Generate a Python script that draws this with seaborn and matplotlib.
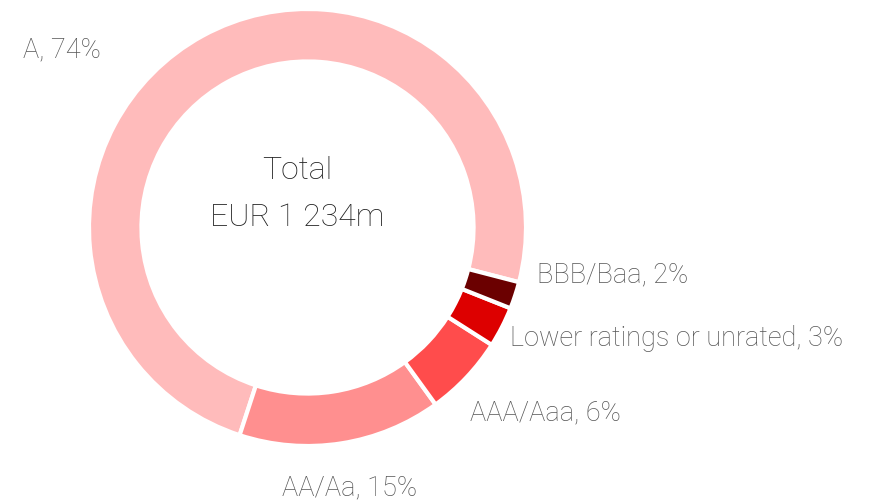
import matplotlib
matplotlib.use("Agg")
import matplotlib.pyplot as plt
import seaborn as sns

categories = ["A", "AA/Aa", "AAA/Aaa", "Lower ratings or unrated", "BBB/Baa"]
values = [74, 15, 6, 3, 2]
colors = ["#FFBBBB", "#FF8F8F", "#FF4C4C", "#DD0000", "#6B0000"]
total_lines = ["Total", "EUR 1 234m"]

sns.set_theme(style="white")
plt.rcParams["font.family"] = ["Roboto", "DejaVu Sans"]

W, H, DPI = 869, 503, 100
CX, CY, R = 307.5, 227.5, 218.5  # pixel centre / radius of donut

fig = plt.figure(figsize=(W / DPI, H / DPI), dpi=DPI)
ax = fig.add_axes([0, 0, 1, 1])

wedges, _ = ax.pie(values, colors=colors, startangle=-14.5, counterclock=True,
                   radius=1.0,
                   wedgeprops=dict(width=0.24, edgecolor="white", linewidth=3))

ax.set_xlim(-CX / R, (W - CX) / R)
ax.set_ylim(-(H - CY) / R, CY / R)
ax.set_aspect("auto")
ax.axis("off")

def px(x, y):
    return (x - CX) / R, (CY - y) / R

# label layout (pixel anchors): x, y, ha
layout = [(23, 50, "left"), (350, 488, "center"), (470, 413, "left"),
          (510, 338, "left"), (537, 275, "left")]
for cat, v, (lx, ly, ha) in zip(categories, values, layout):
    x, y = px(lx, ly)
    ax.text(x, y, f"{cat}, {v}%", ha=ha, va="center", fontsize=19.5,
            fontweight="light", color="#555555")

for line, ly in zip(total_lines, [170, 217]):
    x, y = px(297, ly)
    ax.text(x, y, line, ha="center", va="center", fontsize=23,
            fontweight="light", color="#222222")

fig.savefig("out.png", dpi=DPI)
